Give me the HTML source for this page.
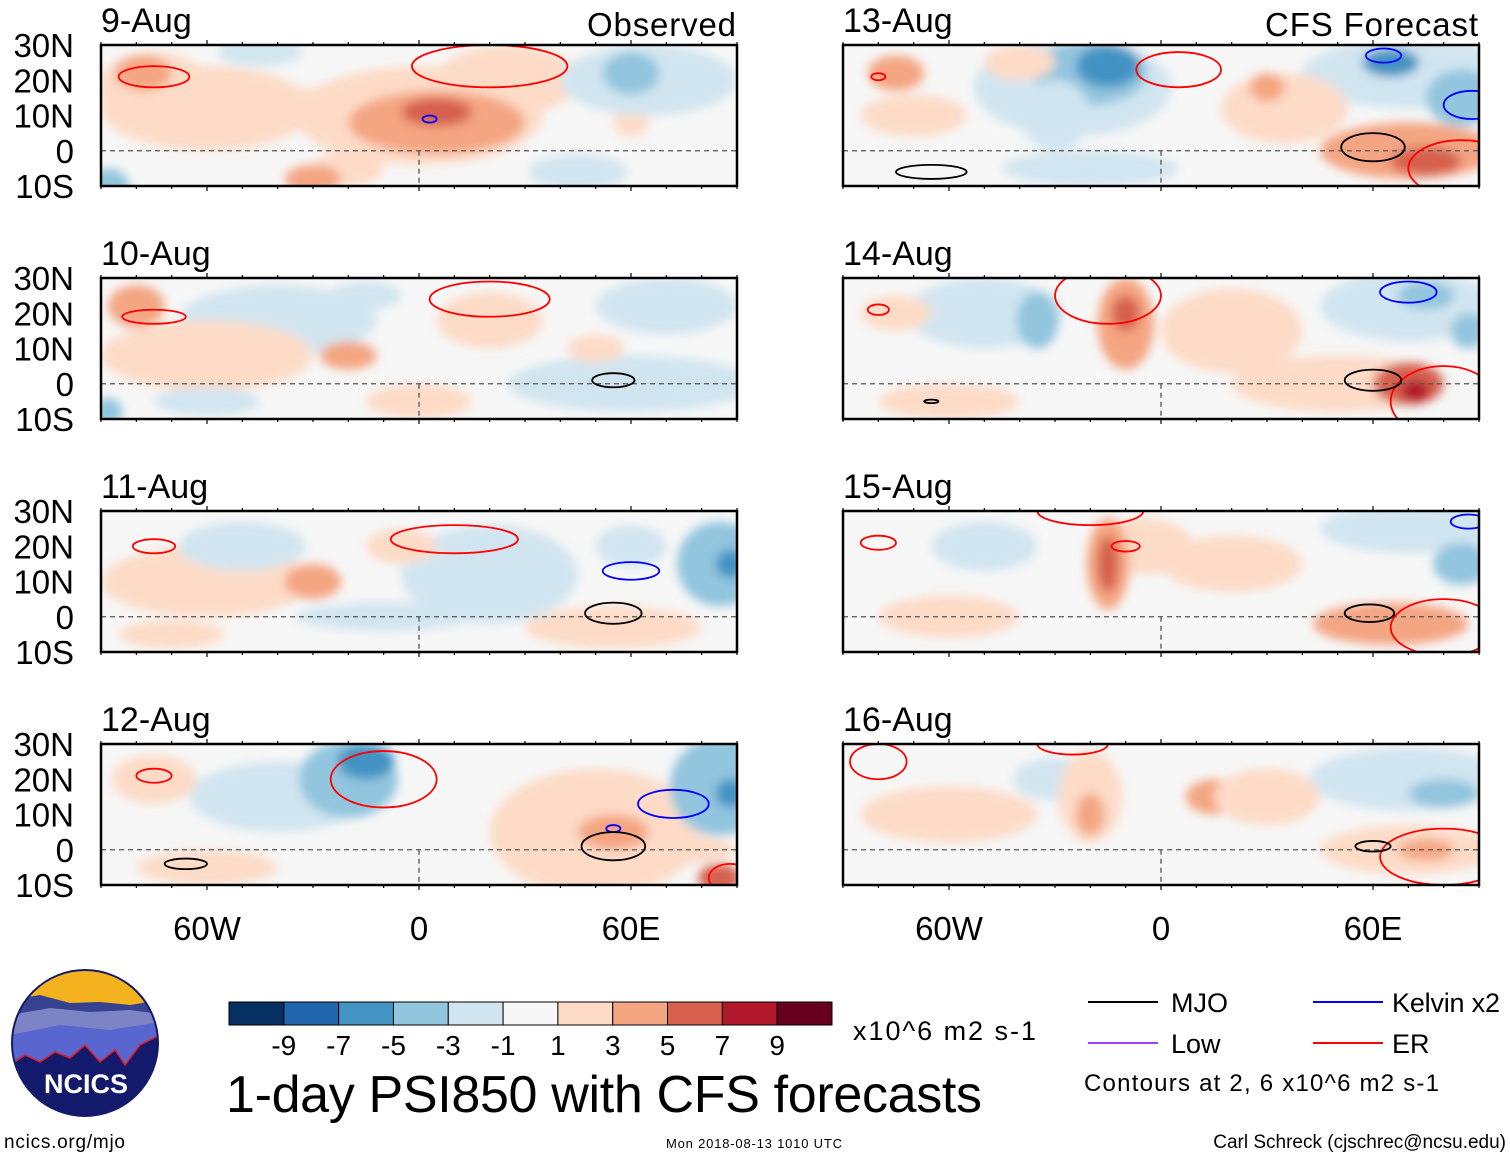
<!DOCTYPE html>
<html><head><meta charset="utf-8"><style>
body{margin:0;background:#fff;}
svg{display:block;font-family:"Liberation Sans",sans-serif;}
</style></head><body>
<svg id="fig" width="1510" height="1158" viewBox="0 0 1510 1158" xmlns="http://www.w3.org/2000/svg">
<defs><filter id="soft" x="-20%" y="-20%" width="140%" height="140%"><feGaussianBlur stdDeviation="5"/></filter></defs>
<g id="panels"></g>
<g>
<clipPath id="lc"><circle cx="85" cy="1043" r="73"/></clipPath>
<g clip-path="url(#lc)">
<rect x="10" y="968" width="150" height="150" fill="#f3b21e"/>
<path d="M10 1000 L40 995 L70 1003 L100 1002 L130 1005 L160 1000 L160 1118 L10 1118Z" fill="#36418f"/>
<path d="M10 1015 L50 1008 L90 1012 L130 1010 L160 1014 L160 1118 L10 1118Z" fill="#7d84c5"/>
<path d="M10 1035 L60 1025 L110 1030 L160 1022 L160 1118 L10 1118Z" fill="#5a66cf"/>
<path d="M10 1065 L25 1055 L40 1062 L55 1052 L70 1058 L85 1045 L100 1062 L115 1050 L125 1065 L140 1045 L160 1035 L160 1118 L10 1118Z" fill="#141a6b" stroke="#e21b23" stroke-width="1.5"/>
</g>
<circle cx="85" cy="1043" r="73" fill="none" stroke="#141a6b" stroke-width="2"/>
<text x="86" y="1093" font-size="27" font-weight="bold" fill="#fff" text-anchor="middle">NCICS</text>
</g>
<text x="4" y="1148" font-size="19" textLength="121">ncics.org/mjo</text>
<text x="666" y="1148" font-size="13" textLength="176">Mon 2018-08-13 1010 UTC</text>
<text x="1506" y="1148" font-size="19" text-anchor="end">Carl Schreck (cjschrec@ncsu.edu)</text>
<g id="cbar"></g>
<text x="853" y="1040" font-size="27" textLength="183">x10^6 m2 s-1</text>
<text x="226" y="1112" font-size="52" textLength="756">1-day PSI850 with CFS forecasts</text>
<g>
<line x1="1088" y1="1002" x2="1158" y2="1002" stroke="#000" stroke-width="2"/><text x="1171" y="1012" font-size="27">MJO</text>
<line x1="1313" y1="1002" x2="1383" y2="1002" stroke="#0000ff" stroke-width="2"/><text x="1392" y="1012" font-size="27" textLength="108">Kelvin x2</text>
<line x1="1088" y1="1043" x2="1158" y2="1043" stroke="#a040ff" stroke-width="2"/><text x="1171" y="1053" font-size="27">Low</text>
<line x1="1313" y1="1043" x2="1383" y2="1043" stroke="#ff0000" stroke-width="2"/><text x="1392" y="1053" font-size="27">ER</text>
<text x="1084" y="1091" font-size="24" textLength="355">Contours at 2, 6 x10^6 m2 s-1</text>
</g>
</svg>
<script>
const levelColors=["#053061","#2166ac","#4393c3","#92c5de","#d1e5f0","#f7f7f7","#fddbc7","#f4a582","#d6604d","#b2182b","#67001f"];
const cbarLabels=["-9","-7","-5","-3","-1","1","3","5","7","9"];
const panelDates=["9-Aug","10-Aug","11-Aug","12-Aug","13-Aug","14-Aug","15-Aug","16-Aug"];
const latTicks=[30,20,10,0,-10];
const latLabels=["30N","20N","10N","0","10S"];
const lonTicks=[-60,0,60];
const lonLabels=["60W","0","60E"];
// blobs: [lon, lat, rxDeg, ryDeg, levelIndex]
const blobs1=[[-60,12,30,12,6],[0,10,35,14,6],[25,20,20,10,6],[-75,18,16,10,6],[-78,22,8,5,7],[-30,12,10,6,6],[5,8,25,9,7],[5,11,10,4,8],[-20,-5,10,5,6],[60,8,5,4,6],[65,20,25,10,4],[60,22,8,6,3],[-88,-10,6,5,3],[45,-6,14,5,4],[-45,28,12,4,4],[-30,-8,8,4,7]];
const blobs2=[[-40,18,28,10,4],[60,0,35,8,4],[70,22,20,8,4],[-60,8,30,10,6],[-80,22,8,6,7],[-20,8,8,4,7],[20,18,15,8,6],[50,10,8,4,6],[-15,25,10,4,4],[-60,-5,15,4,4],[-88,-8,4,4,3],[0,-5,15,5,6]];
const blobs3=[[-60,10,30,10,6],[20,12,25,14,4],[-50,20,18,7,4],[-30,10,8,5,7],[55,-3,25,6,6],[-5,20,10,5,6],[85,15,12,12,3],[88,15,4,4,2],[60,20,10,6,4],[-10,0,25,4,4],[-70,-5,15,4,6]];
const blobs4=[[-40,15,25,10,4],[50,5,30,18,6],[60,0,30,5,6],[55,5,10,5,7],[85,-8,6,4,8],[-75,20,12,7,6],[-20,20,14,11,3],[-15,25,8,5,2],[85,18,14,14,3],[88,16,4,4,2],[-60,-5,20,5,6]];
const blobs5=[[-25,18,28,14,4],[70,22,30,10,4],[-20,22,16,9,3],[-30,10,10,10,4],[-20,-5,25,5,4],[85,15,10,8,3],[-15,24,9,6,2],[65,25,8,4,2],[-75,22,8,5,7],[35,12,18,10,6],[30,18,5,4,7],[70,0,25,8,7],[75,-3,10,4,8],[-40,25,10,5,6],[-70,10,15,6,6]];
const blobs6=[[-50,20,22,10,4],[70,22,25,10,4],[-35,18,6,8,3],[87,15,5,5,3],[75,25,8,4,3],[50,0,30,8,6],[20,15,20,12,6],[-75,20,10,5,6],[-10,17,8,13,7],[-10,20,4,5,8],[70,0,10,6,8],[72,-2,4,3,9],[-60,-5,20,5,6]];
const blobs7=[[70,25,25,7,4],[-50,20,15,7,4],[85,15,8,6,3],[-5,20,14,8,6],[65,-2,22,6,7],[-15,15,6,13,7],[-15,15,3,8,8],[-60,0,20,6,6],[20,15,20,8,6]];
const blobs8=[[70,20,28,9,4],[-30,20,12,6,4],[80,16,10,4,3],[70,0,25,7,6],[-20,15,9,13,6],[-20,10,4,6,7],[15,15,8,5,7],[75,0,8,3,7],[-60,10,25,8,6],[30,15,15,8,6]];
// contours: [lon, lat, rxDeg, ryDeg]
const er=[[[-75,21,10,3],[20,24,22,6]],[[-75,19,9,2],[20,24,17,5]],[[-75,20,6,2],[10,22,18,4]],[[-10,20,15,8],[-75,21,5,2],[88,-8,6,4]],[[5,23,12,5],[-80,21,2,1],[85,-5,15,8]],[[-80,21,3,1.5],[80,-5,15,10],[-15,25,15,8]],[[-80,21,5,2],[-10,20,4,1.5],[80,-3,15,8],[-20,30,15,4]],[[-80,25,8,5],[-25,30,10,3],[80,-2,18,8]]];
const kelvin=[[[3,9,2,1]],[],[[60,13,8,2.5]],[[72,13,10,4],[55,6,2,1]],[[63,27,5,2],[88,13,8,4]],[[70,26,8,3]],[[87,27,5,2]],[]];
const mjo=[[],[[55,1,6,2]],[[55,1,8,3]],[[55,1,9,4],[-66,-4,6,1.5]],[[60,1,9,4],[-65,-6,10,2]],[[60,1,8,3],[-65,-5,2,0.5]],[[59,1,7,2.5]],[[60,1,5,1.5]]];
const allBlobs=[blobs1,blobs2,blobs3,blobs4,blobs5,blobs6,blobs7,blobs8];

const NS="http://www.w3.org/2000/svg";
function mk(t,a,p){const e=document.createElementNS(NS,t);for(const k in a)e.setAttribute(k,a[k]);p.appendChild(e);return e;}
const PW=636,PH=141,colX=[101,843],rowY=[45,278,511,744];
const root=document.getElementById('panels');
panelDates.forEach((d,i)=>{
  const x0=colX[i<4?0:1],y0=rowY[i%4];
  const sx=lon=>x0+(lon+90)*PW/180, sy=lat=>y0+(30-lat)*PH/40;
  const kx=PW/180,ky=PH/40;
  const g=mk('g',{},root);
  
  
  const cp=mk('clipPath',{id:'cp'+i},g);mk('rect',{x:x0,y:y0,width:PW,height:PH},cp);
  const inner=mk('g',{'clip-path':'url(#cp'+i+')'},g);
  mk('rect',{x:x0,y:y0,width:PW,height:PH,fill:levelColors[5]},inner);
  const bg=mk('g',{filter:'url(#soft)'},inner);
  allBlobs[i].forEach(b=>{
    const e=mk('ellipse',{cx:sx(b[0]),cy:sy(b[1]),rx:b[2]*kx,ry:b[3]*ky,fill:levelColors[b[4]]},bg);
    
    
  });
  mk('line',{x1:x0,y1:sy(0),x2:x0+PW,y2:sy(0),stroke:'#555','stroke-dasharray':'5,4','stroke-width':1.3},inner);
  mk('line',{x1:sx(0),y1:sy(0),x2:sx(0),y2:y0+PH,stroke:'#555','stroke-dasharray':'5,4','stroke-width':1.3},inner);
  [[er[i],'#ff0000','er-contour'],[kelvin[i],'#0000ff','kelvin-contour'],[mjo[i],'#000','mjo-contour']].forEach(([arr,c,n])=>{
    arr.forEach(b=>{
      const e=mk('ellipse',{cx:sx(b[0]),cy:sy(b[1]),rx:b[2]*kx,ry:b[3]*ky,fill:'none',stroke:c,'stroke-width':1.8},inner);
      
      
    });
  });
  mk('rect',{x:x0,y:y0,width:PW,height:PH,fill:'none',stroke:'#000','stroke-width':2.5},g);
  for(let l=-90;l<=90;l+=10){const big=l%60==0;mk('line',{x1:sx(l),y1:y0+PH,x2:sx(l),y2:y0+PH+(big?5:3),stroke:'#000','stroke-width':1.2},g);mk('line',{x1:sx(l),y1:y0,x2:sx(l),y2:y0-(big?5:3),stroke:'#000','stroke-width':1.2},g);}
  const t=mk('text',{x:x0,y:y0-13,'font-size':34},g);t.textContent=d;
  
  
  if(i<4){latTicks.forEach((lt,j)=>{const tt=mk('text',{x:74,y:sy(lt)+12,'font-size':33,'text-anchor':'end'},g);tt.textContent=latLabels[j];
    
    });}
  if(i%4==3){lonTicks.forEach((ln,j)=>{const tt=mk('text',{x:sx(ln),y:940,'font-size':33,'text-anchor':'middle'},g);tt.textContent=lonLabels[j];
    
    });}
});
const f=document.getElementById('fig');
let t1=mk('text',{x:587,y:36,'font-size':33,textLength:149},f);t1.textContent='Observed';


let t2=mk('text',{x:1265,y:36,'font-size':33,textLength:213},f);t2.textContent='CFS Forecast';


const cb=document.getElementById('cbar');const bw=(832-229)/11;
levelColors.forEach((c,k)=>{const r=mk('rect',{x:229+k*bw,y:1002,width:bw,height:23,fill:c,stroke:'#000','stroke-width':1},cb);
  
  });
cbarLabels.forEach((s,k)=>{const tt=mk('text',{x:229+(k+1)*bw,y:1055,'font-size':28,'text-anchor':'middle'},cb);tt.textContent=s;
  
  });
</script>
</body></html>
